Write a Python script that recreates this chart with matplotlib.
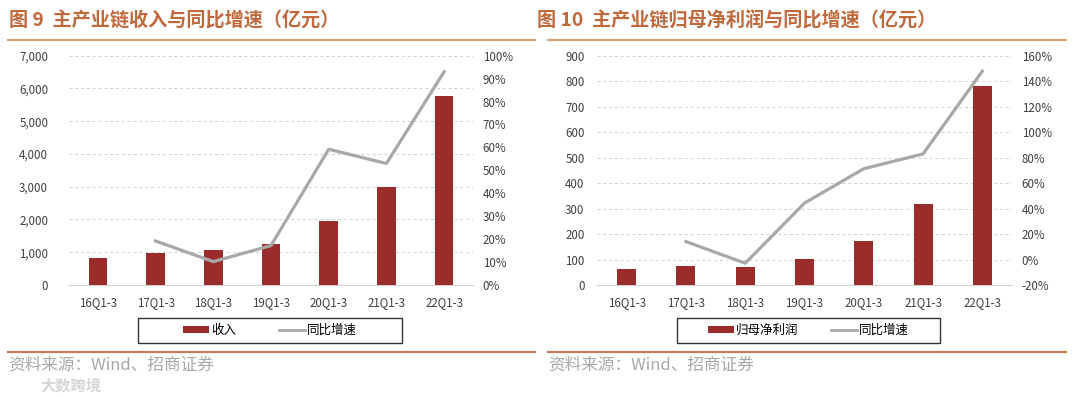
import matplotlib
matplotlib.use("Agg")
from matplotlib import pyplot as plt
from matplotlib.ticker import FuncFormatter, MultipleLocator
from matplotlib.lines import Line2D
from matplotlib.patches import Patch, Rectangle

plt.rcParams["font.family"] = ["Noto Sans CJK SC", "DejaVu Sans"]

periods = ["16Q1-3", "17Q1-3", "18Q1-3", "19Q1-3", "20Q1-3", "21Q1-3", "22Q1-3"]

# Figure 9: revenue (亿元) and YoY growth (%)
revenue = [814, 967, 1068, 1241, 1964, 3001, 5769]
revenue_yoy = [None, 19.2, 10.2, 17.2, 59.2, 53.0, 93.0]

# Figure 10: net profit attributable to parent (亿元) and YoY growth (%)
profit = [64, 73, 71, 102, 174, 316, 782]
profit_yoy = [None, 14.1, -2.9, 44.3, 71.3, 82.9, 147.9]

BAR = "#9A2C2C"
LINE = "#A8A8A8"
TITLE = "#C0693C"
RULE_TOP = "#D9A27E"
RULE_BOT = "#C77A5C"
TICK = "#404040"

fig = plt.figure(figsize=(10.8, 3.96), dpi=100)
W, H = 1080, 396


def fx(px):
    return px / W


def fy(py):
    return 1 - py / H


def panel(x0, x1, ymax, ystep, rmin, rmax, rstep, bars, yoy, title, bar_label,
          leg_x0, leg_x1, lpad, colspace):
    ax = fig.add_axes([fx(x0), fy(285), fx(x1 - x0), (285 - 55.7) / H])
    xs = list(range(len(periods)))
    ax.bar(xs, bars, width=0.32, color=BAR, zorder=3)
    ax.set_xlim(-0.5, len(periods) - 0.5)
    ax.set_ylim(0, ymax)
    ax.yaxis.set_major_locator(MultipleLocator(ystep))
    ax.yaxis.set_major_formatter(FuncFormatter(lambda v, p: f"{v:,.0f}"))
    ax.set_xticks(xs)
    ax.set_xticklabels(periods)
    ax.grid(axis="y", color="#D0D0D0", linestyle=(0, (3, 3)), linewidth=0.7, zorder=0)
    for s in ["top", "right", "left"]:
        ax.spines[s].set_visible(False)
    ax.spines["bottom"].set_color("#D0D0D0")
    ax.tick_params(length=0, labelsize=8.3, colors=TICK)
    ax.tick_params(axis="y", pad=lpad)
    ax.tick_params(axis="x", pad=8)

    ax2 = ax.twinx()
    px = [i for i, v in enumerate(yoy) if v is not None]
    pv = [v for v in yoy if v is not None]
    ax2.plot(px, pv, color=LINE, linewidth=2.3, zorder=4)
    ax2.set_ylim(rmin, rmax)
    ax2.yaxis.set_major_locator(MultipleLocator(rstep))
    ax2.yaxis.set_major_formatter(FuncFormatter(lambda v, p: f"{v:.0f}%"))
    for s in ["top", "right", "left", "bottom"]:
        ax2.spines[s].set_visible(False)
    ax2.tick_params(length=0, labelsize=8.3, colors=TICK, pad=7)

    fig.text(fx(x0 - 60), fy(21), title, fontsize=13.8, fontweight="bold",
             color=TITLE, va="center", ha="left")

    # legend box
    fig.add_artist(Rectangle((fx(leg_x0), fy(343)), fx(leg_x1 - leg_x0), (343 - 318) / H,
                             transform=fig.transFigure, facecolor="white",
                             edgecolor="#333333", linewidth=1.0))
    handles = [Patch(facecolor=BAR, edgecolor="none"),
               Line2D([0], [0], color=LINE, linewidth=2)]
    fig.legend(handles, [bar_label, "同比增速"], ncol=2,
               loc="center", bbox_to_anchor=(fx((leg_x0 + leg_x1) / 2), fy(330.5)),
               frameon=False, fontsize=9, handlelength=2.1, handleheight=0.45,
               handletextpad=0.15, columnspacing=colspace, borderpad=0.2)
    return ax


panel(69, 473, 7000, 1000, 0, 100, 10, revenue, revenue_yoy,
      "图 9  主产业链收入与同比增速（亿元）", "收入", 138, 402, 15, 3.4)
panel(597, 1012, 900, 100, -20, 160, 20, profit, profit_yoy,
      "图 10  主产业链归母净利润与同比增速（亿元）", "归母净利润", 677, 940, 9, 2.6)

# header and footer rules
for a, b in [(8, 535), (548, 1066)]:
    fig.add_artist(Line2D([fx(a), fx(b)], [fy(40), fy(40)], color=RULE_TOP, linewidth=1.6))
    fig.add_artist(Line2D([fx(a), fx(b)], [fy(352), fy(352)], color=RULE_BOT, linewidth=1.6))

for x in (8, 548):
    fig.text(fx(x), fy(365), "资料来源：Wind、招商证券", fontsize=12, color="#A8A8A8",
             fontweight="light", va="center", ha="left")

# watermark
fig.text(fx(40), fy(386), "大数跨境", fontsize=11, color="#D6D6D6",
         fontweight="bold", va="center", ha="left")

fig.savefig("out.png", dpi=100, facecolor="white")
